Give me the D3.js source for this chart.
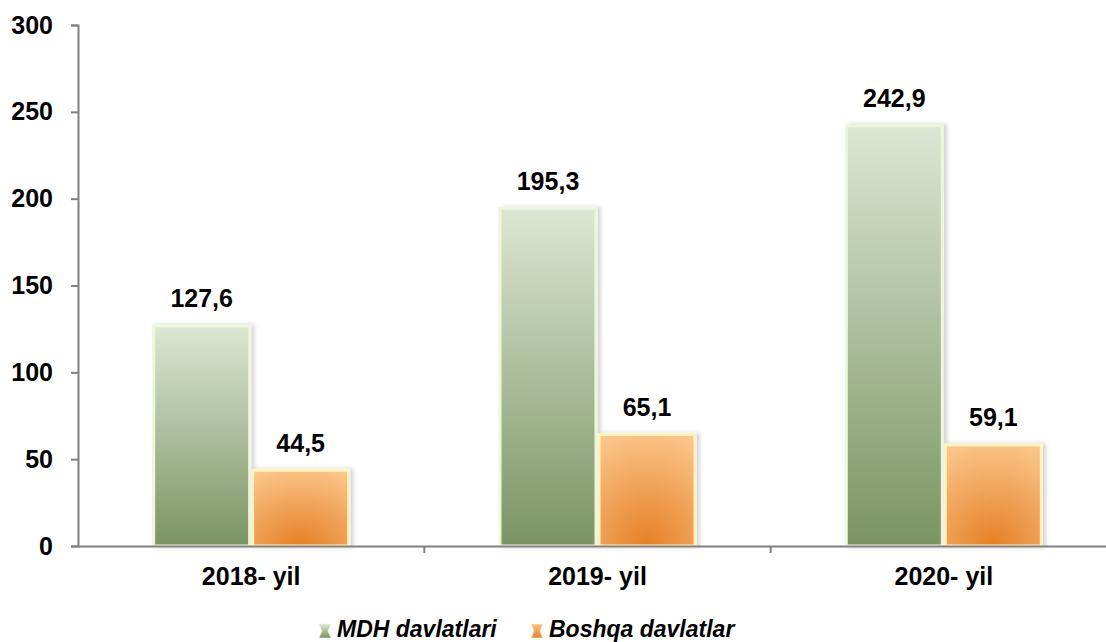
<!DOCTYPE html>
<html>
<head>
<meta charset="utf-8">
<script src="https://cdn.jsdelivr.net/npm/d3@7"></script>
<style>
  body { margin: 0; background: #fff; }
  text { font-family: "Liberation Sans", Arial, sans-serif; font-weight: bold; }
</style>
</head>
<body>
<svg id="svg" width="1106" height="642"></svg>
<script>
const years = ['2018- yil', '2019- yil', '2020- yil']
const seriesNames = ['MDH davlatlari', 'Boshqa davlatlar']
const mdh = [127.6, 195.3, 242.9]
const boshqa = [44.5, 65.1, 59.1]
const yTicks = [0, 50, 100, 150, 200, 250, 300]

let svg = d3.select('#svg')

let x = d3.scaleBand().domain(years).range([78, 1117])
let y = d3.scaleLinear().domain([0, 300]).range([546, 25])
let inner = d3.scaleBand().domain(seriesNames).range([0, 198])

let defs = svg.append('defs')

let greenGrad = defs.append('linearGradient').attr('id', 'gGreen')
  .attr('x1', 0).attr('y1', 0).attr('x2', 0).attr('y2', 1)
greenGrad.append('stop').attr('offset', '0%').attr('stop-color', '#dde6d2')
greenGrad.append('stop').attr('offset', '100%').attr('stop-color', '#7a9464')

let orangeGrad = defs.append('radialGradient').attr('id', 'gOrange')
  .attr('cx', '50%').attr('cy', '100%').attr('r', '110%')
orangeGrad.append('stop').attr('offset', '0%').attr('stop-color', '#e57f26')
orangeGrad.append('stop').attr('offset', '100%').attr('stop-color', '#fcc98e')

let shadow = defs.append('filter').attr('id', 'shadow')
  .attr('x', '-10%').attr('y', '-10%').attr('width', '130%').attr('height', '120%')
shadow.append('feDropShadow').attr('dx', 3).attr('dy', 0).attr('stdDeviation', 2)
  .attr('flood-color', '#000').attr('flood-opacity', 0.18)

let series = [
  { name: seriesNames[0], values: mdh, fill: 'url(#gGreen)', stroke: '#eef6dc' },
  { name: seriesNames[1], values: boshqa, fill: 'url(#gOrange)', stroke: '#fff3c4' }
]

let fontFam = '"Liberation Sans", Arial, sans-serif'

// y axis
let yAxis = svg.append('g').attr('transform', 'translate(78,0)')
  .call(d3.axisLeft(y).tickValues(yTicks).tickSize(7).tickPadding(18).tickFormat(d3.format('d')))
yAxis.select('.domain').attr('stroke', '#808080').attr('stroke-width', 2)
yAxis.selectAll('.tick line').attr('stroke', '#808080').attr('stroke-width', 2)
yAxis.selectAll('.tick text').attr('font-size', 25).attr('fill', '#000')
  .style('font-family', fontFam).style('font-weight', 'bold')

// bars
series.forEach(s => {
  svg.append('g').selectAll('rect')
    .data(years)
    .enter()
    .append('rect')
    .attr('x', (d) => x(d) + (x.bandwidth() - 198) / 2 + inner(s.name) + 1.5)
    .attr('y', (d, i) => y(s.values[i]) + 1.5)
    .attr('width', inner.bandwidth() - 3)
    .attr('height', (d, i) => y(0) - y(s.values[i]) - 1.5)
    .attr('fill', s.fill)
    .attr('stroke', s.stroke)
    .attr('stroke-width', 3)
    .attr('filter', 'url(#shadow)')

  svg.append('g').selectAll('text')
    .data(years)
    .enter()
    .append('text')
    .attr('x', (d) => x(d) + (x.bandwidth() - 198) / 2 + inner(s.name) + inner.bandwidth() / 2)
    .attr('y', (d, i) => y(s.values[i]) - 17)
    .attr('text-anchor', 'middle')
    .attr('font-size', 25)
    .text((d, i) => d3.format('.1f')(s.values[i]).replace('.', ','))
})

// x axis
let xAxis = svg.append('g').attr('transform', 'translate(0,546)')
  .call(d3.axisBottom(x).tickSize(0).tickPadding(21))
xAxis.select('.domain').attr('stroke', '#808080').attr('stroke-width', 2)
xAxis.selectAll('.tick text').attr('font-size', 25).attr('fill', '#000')
  .style('font-family', fontFam).style('font-weight', 'bold')
let edges = years.slice(1).map(d => x(d))
svg.append('g').selectAll('line')
  .data(edges)
  .enter()
  .append('line')
  .attr('x1', d => d).attr('x2', d => d)
  .attr('y1', 546).attr('y2', 553)
  .attr('stroke', '#808080').attr('stroke-width', 2)

// legend
let legendX = [325, 537]
let legend = svg.append('g').selectAll('g')
  .data(series)
  .enter()
  .append('g')
  .attr('transform', (d, i) => 'translate(' + legendX[i] + ',631)')
legend.append('path')
  .attr('d', 'M-6,-7 L6,-7 L3,0 L6,7 L-6,7 L-3,0 Z')
  .attr('fill', d => d.fill)
  .attr('stroke', d => d.stroke)
  .attr('stroke-width', 0.5)
legend.append('text')
  .attr('x', 12)
  .attr('y', 6)
  .attr('font-size', 23)
  .attr('font-style', 'italic')
  .text(d => d.name)
</script>
</body>
</html>
